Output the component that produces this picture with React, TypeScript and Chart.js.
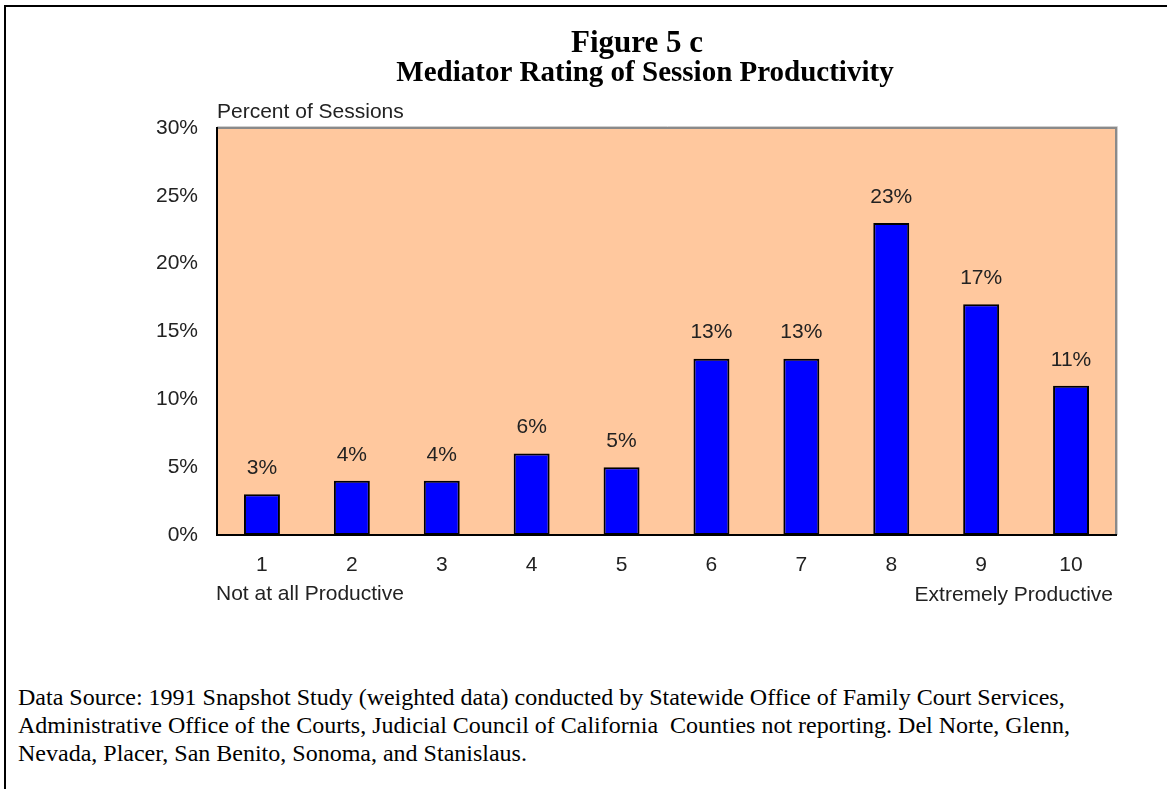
import React, { useEffect, useRef } from 'react';
import { Chart, registerables } from 'chart.js';

Chart.register(...registerables);

// ---- Data ----
const categories: string[] = ['1', '2', '3', '4', '5', '6', '7', '8', '9', '10'];
const percentOfSessions: number[] = [3, 4, 4, 6, 5, 13, 13, 23, 17, 11];
const yTickValues: number[] = [0, 5, 10, 15, 20, 25, 30];

const titleText = 'Figure 5 c';
const subtitleText = 'Mediator Rating of Session Productivity';
const yAxisTitle = 'Percent of Sessions';
const xLowLabel = 'Not at all Productive';
const xHighLabel = 'Extremely Productive';
const footnoteLines: string[] = [
  'Data Source: 1991 Snapshot Study (weighted data) conducted by Statewide Office of Family Court Services,',
  'Administrative Office of the Courts, Judicial Council of California  Counties not reporting. Del Norte, Glenn,',
  'Nevada, Placer, San Benito, Sonoma, and Stanislaus.',
];

const W = 1167;
const CANVAS_H = 640;
const SANS = "'Liberation Sans', Arial, sans-serif";
const SERIF = "'Liberation Serif', 'Times New Roman', serif";
const PLOT_BG = '#FFC89E';

const decorPlugin = {
  id: 'decor',
  beforeDraw(chart: any) {
    const { ctx, chartArea: a } = chart;
    ctx.save();
    ctx.fillStyle = PLOT_BG;
    ctx.fillRect(a.left, a.top, a.right - a.left, a.bottom - a.top);
    ctx.strokeStyle = '#8a8a8a';
    ctx.lineWidth = 2;
    ctx.beginPath();
    ctx.moveTo(a.left, a.top);
    ctx.lineTo(a.right, a.top);
    ctx.lineTo(a.right, a.bottom);
    ctx.stroke();
    ctx.strokeStyle = '#cfcfcf';
    ctx.lineWidth = 1;
    ctx.beginPath();
    ctx.moveTo(a.left, a.top - 1.5);
    ctx.lineTo(a.right + 1.5, a.top - 1.5);
    ctx.lineTo(a.right + 1.5, a.bottom);
    ctx.stroke();
    ctx.restore();
  },
  afterDraw(chart: any) {
    const { ctx, chartArea: a } = chart;
    ctx.save();
    ctx.fillStyle = '#000';
    ctx.textAlign = 'center';
    ctx.textBaseline = 'alphabetic';
    ctx.font = `bold 31px ${SERIF}`;
    ctx.fillText(titleText, 637, 52);
    ctx.font = `bold 29px ${SERIF}`;
    ctx.fillText(subtitleText, 645, 81);

    ctx.font = `21px ${SANS}`;
    ctx.fillStyle = '#222';
    ctx.textBaseline = 'middle';
    ctx.textAlign = 'left';
    ctx.fillText(yAxisTitle, a.left, a.top - 16);
    ctx.fillText(xLowLabel, a.left - 1, a.bottom + 59);
    ctx.textAlign = 'right';
    ctx.fillText(xHighLabel, a.right - 3, a.bottom + 60);
    ctx.restore();
  },
  afterDatasetsDraw(chart: any) {
    const { ctx } = chart;
    const meta = chart.getDatasetMeta(0);
    const data = chart.data.datasets[0].data as number[];
    ctx.save();
    ctx.font = `21px ${SANS}`;
    ctx.fillStyle = '#222';
    ctx.textAlign = 'center';
    ctx.textBaseline = 'middle';
    meta.data.forEach((bar: any, i: number) => {
      ctx.fillText(`${data[i]}%`, bar.x, bar.y - 26);
    });
    ctx.restore();
  },
};

function BarChart() {
  const ref = useRef<HTMLCanvasElement | null>(null);
  useEffect(() => {
    if (!ref.current) return;
    const chart = new Chart(ref.current, {
      type: 'bar',
      data: {
        labels: categories,
        datasets: [
          {
            data: percentOfSessions,
            backgroundColor: '#0000FF',
            borderColor: '#000000',
            borderWidth: 2,
            borderSkipped: false,
            barPercentage: 0.4,
            categoryPercentage: 1.0,
          },
        ],
      },
      options: {
        responsive: false,
        animation: false,
        devicePixelRatio: 1,
        layout: {
          padding: { top: 128, left: 217 - 80, right: W - 1116, bottom: CANVAS_H - 535 - 50 },
        },
        plugins: {
          legend: { display: false },
          title: { display: false },
          tooltip: { enabled: false },
        },
        scales: {
          x: {
            grid: { display: false, drawTicks: false },
            border: { display: true, color: '#000', width: 2 },
            ticks: {
              color: '#222',
              font: { family: SANS, size: 21 },
              padding: 18,
              maxRotation: 0,
              autoSkip: false,
            },
            afterFit: (s: any) => {
              s.height = 50;
            },
          },
          y: {
            min: 0,
            max: 30,
            afterBuildTicks: (s: any) => {
              s.ticks = yTickValues.map((v) => ({ value: v }));
            },
            grid: { display: false, drawTicks: false },
            border: { display: true, color: '#000', width: 2 },
            ticks: {
              color: '#222',
              font: { family: SANS, size: 21 },
              padding: 19,
              callback: (v: any) => `${v}%`,
            },
            afterFit: (s: any) => {
              s.width = 80;
            },
          },
        },
      },
      plugins: [decorPlugin],
    });
    return () => chart.destroy();
  }, []);
  return <canvas ref={ref} width={W} height={CANVAS_H} style={{ position: 'absolute', left: 0, top: 0, width: W, height: CANVAS_H }} />;
}

export default function App() {
  return (
    <div style={{ position: 'fixed', left: 0, top: 0, width: W, height: 789, background: '#fff', overflow: 'hidden' }}>
      <div
        style={{
          position: 'absolute',
          left: 4,
          top: 5,
          width: 1400,
          height: 1000,
          border: '2px solid #000',
          boxSizing: 'border-box',
        }}
      />
      <BarChart />
      <div
        style={{
          position: 'absolute',
          left: 18,
          top: 683,
          fontFamily: SERIF,
          fontSize: 24,
          lineHeight: '28px',
          color: '#000',
          whiteSpace: 'pre',
        }}
      >
        {footnoteLines.map((l, i) => (
          <div key={i}>{l}</div>
        ))}
      </div>
    </div>
  );
}
